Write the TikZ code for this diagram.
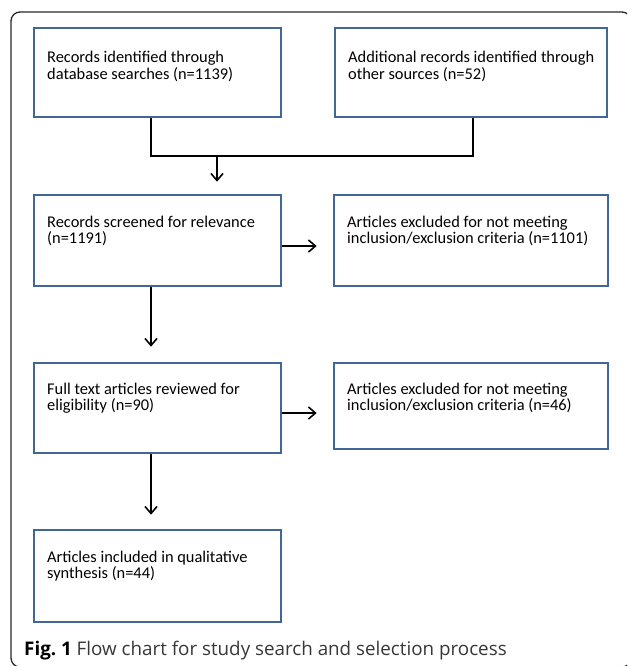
\documentclass[tikz,border=0pt]{standalone}
\usepackage{fontspec}
\setmainfont{Carlito}
\newfontfamily\capfont{Open Sans}
\usetikzlibrary{arrows.meta}
\definecolor{boxblue}{RGB}{66,102,150}
\definecolor{captxt}{RGB}{55,55,55}
\begin{document}
\begin{tikzpicture}[x=1pt,y=-1pt,
  box/.style={draw=boxblue, line width=2.6pt, inner sep=0pt},
  txt/.style={anchor=base west, inner sep=0pt, font=\fontsize{16.4}{16.6}\selectfont},
  conn/.style={line width=1.8pt, black},
  arr/.style={conn, -{Straight Barb[length=7pt,width=12pt,line width=1.6pt]}},
  frame/.style={line width=1.3pt, black!85, rounded corners=9pt}]
\clip (0,0) rectangle (627,666);
\draw[frame] (11,12) rectangle (631,667);
% boxes
\node[box, minimum width=247pt, minimum height=89pt] (b1) at (157.5,72.5) {};
\node[box, minimum width=272pt, minimum height=89pt] (b2) at (471,72.5) {};
\node[box, minimum width=247pt, minimum height=91pt] (b3) at (157.5,240.5) {};
\node[box, minimum width=274pt, minimum height=91pt] (b4) at (471,240.5) {};
\node[box, minimum width=247pt, minimum height=90pt] (b5) at (157.5,408) {};
\node[box, minimum width=274pt, minimum height=86pt] (b6) at (471,406) {};
\node[box, minimum width=247pt, minimum height=92pt] (b7) at (157.5,576) {};
% texts
\node[txt] (t1) at (47,62.5) {\parbox[t]{228pt}{Records identified through\\database searches (n=1139)}};
\node[txt] (t2) at (348,62.5) {\parbox[t]{255pt}{Additional records identified through\\other sources (n=52)}};
\node[txt] (t3) at (47,227) {\parbox[t]{228pt}{Records screened for relevance\\(n=1191)}};
\node[txt] (t4) at (347,227) {\parbox[t]{255pt}{Articles excluded for not meeting\\inclusion/exclusion criteria (n=1101)}};
\node[txt] (t5) at (47,394) {\parbox[t]{228pt}{Full text articles reviewed for\\eligibility (n=90)}};
\node[txt] (t6) at (347,394) {\parbox[t]{255pt}{Articles excluded for not meeting\\inclusion/exclusion criteria (n=46)}};
\node[txt] (t7) at (47,562) {\parbox[t]{228pt}{Articles included in qualitative\\synthesis (n=44)}};
% connectors
\coordinate (j1) at (151,156);
\coordinate (j2) at (473,156);
\coordinate (m) at (217,156);
\coordinate (ya) at (0,246);
\coordinate (yb) at (0,413);
\coordinate (xd) at (151,0);
\draw[conn] (b1.south -| j1) -- (j1) -- (j2) -- (b2.south -| j2);
\draw[arr] (m) -- ([yshift=12pt]b3.north -| m);
\draw[arr] (b3.east |- ya) -- ([xshift=-16pt]b4.west |- ya);
\draw[arr] (b5.east |- yb) -- ([xshift=-16pt]b6.west |- yb);
\draw[arr] (b3.south -| xd) -- ([yshift=15pt]b5.north -| xd);
\draw[arr] (b5.south -| xd) -- ([yshift=14pt]b7.north -| xd);
% caption
\node[anchor=base west, inner sep=0pt, font=\capfont\fontsize{18.8}{21}\selectfont] (cap) at (24,655)
  {\textbf{Fig.\ 1} \textcolor{captxt}{Flow chart for study search and selection process}};
\end{tikzpicture}
\end{document}
